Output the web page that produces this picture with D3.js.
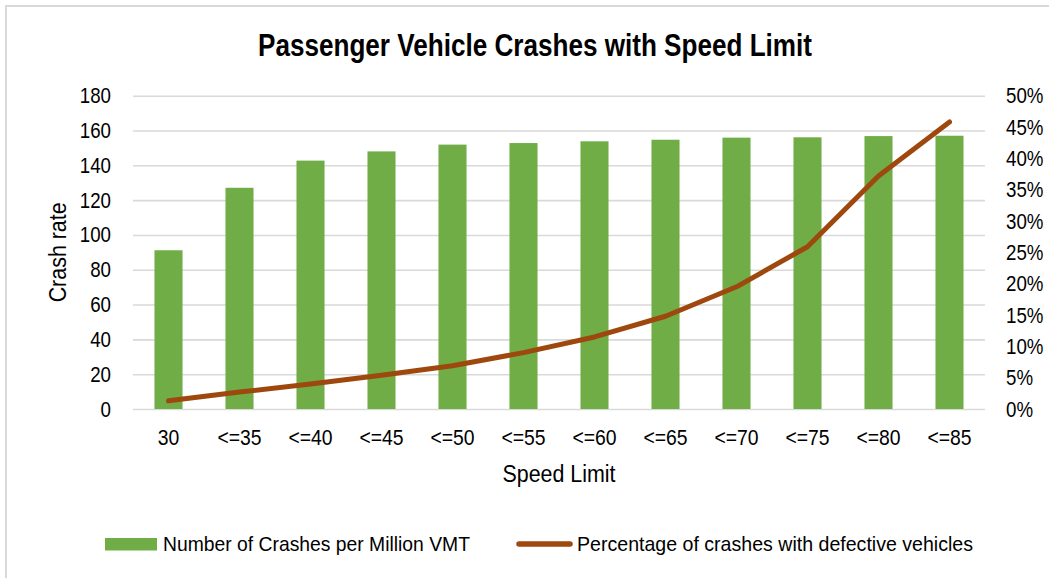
<!DOCTYPE html>
<html>
<head>
<meta charset="utf-8">
<script src="https://cdn.jsdelivr.net/npm/d3@7"></script>
<style>
  html, body { margin: 0; padding: 0; background: #fff; }
  svg { display: block; }
  text { font-family: "Liberation Sans Narrow", "Arial Narrow", "Liberation Sans", Arial, sans-serif; fill: #000; }
</style>
</head>
<body>
<svg id="chart" width="1049" height="578"></svg>
<script>
const categories = ["30", "<=35", "<=40", "<=45", "<=50", "<=55", "<=60", "<=65", "<=70", "<=75", "<=80", "<=85"];
const crashRate = [91.2, 127.1, 142.7, 148.0, 151.9, 152.8, 153.8, 154.7, 155.9, 156.1, 156.8, 157.0];
const defectivePct = [1.3, 2.7, 4.0, 5.4, 6.9, 9.0, 11.5, 14.8, 19.5, 25.9, 37.2, 45.8];
const leftTicks = [0, 20, 40, 60, 80, 100, 120, 140, 160, 180];
const rightTicks = [0, 5, 10, 15, 20, 25, 30, 35, 40, 45, 50];

const title = "Passenger Vehicle Crashes with Speed Limit";
const xTitle = "Speed Limit";
const yTitle = "Crash rate";
const barLegend = "Number of Crashes per Million VMT";
const lineLegend = "Percentage of crashes with defective vehicles";

const barColor = "#70AD47";
const lineColor = "#9E480E";
const gridColor = "#d9d9d9";

const svg = d3.select("#chart");
const plot = { left: 133, right: 985, top: 95.7, bottom: 409 };
const narrow = 0.85;

// chart border
svg.append("rect")
  .attr("x", 6).attr("y", 6).attr("width", 1100).attr("height", 700)
  .attr("fill", "none").attr("stroke", gridColor).attr("stroke-width", 2);

const x = d3.scaleBand().domain(categories).range([plot.left, plot.right]).paddingInner(0.605).paddingOuter(0.3025);
const yL = d3.scaleLinear().domain([0, 180]).range([plot.bottom, plot.top]);
const yR = d3.scaleLinear().domain([0, 50]).range([plot.bottom, plot.top]);

// gridlines
svg.append("g")
  .attr("transform", `translate(${plot.left},0)`)
  .call(d3.axisLeft(yL).tickValues(leftTicks).tickSize(-(plot.right - plot.left)).tickFormat(""))
  .call(g => g.select(".domain").remove())
  .call(g => g.selectAll("line").attr("stroke", gridColor).attr("stroke-width", 1.6));

function squeezeTicks(g, k, size) {
  g.selectAll("text").each(function () {
    const t = d3.select(this);
    const xv = +t.attr("x") || 0;
    const yv = +t.attr("y") || 0;
    t.attr("x", xv / k).attr("y", yv)
     .attr("transform", `scale(${k},1)`)
     .attr("font-size", size).attr("font-family", null).attr("fill", "#000");
  });
}

// left axis labels
svg.append("g")
  .attr("transform", `translate(${plot.left},0)`)
  .call(d3.axisLeft(yL).tickValues(leftTicks).tickSize(0).tickPadding(22))
  .call(g => g.select(".domain").remove())
  .call(g => squeezeTicks(g, narrow, 22));

// right axis labels
svg.append("g")
  .attr("transform", `translate(${plot.right},0)`)
  .call(d3.axisRight(yR).tickValues(rightTicks).tickSize(0).tickPadding(21).tickFormat(d => d + "%"))
  .call(g => g.select(".domain").remove())
  .call(g => squeezeTicks(g, narrow, 22));

// bars
svg.append("g").selectAll("rect")
  .data(crashRate)
  .join("rect")
  .attr("x", (d, i) => x(categories[i]))
  .attr("width", x.bandwidth())
  .attr("y", d => yL(d))
  .attr("height", d => yL(0) - yL(d))
  .attr("fill", barColor);

// x axis labels
svg.append("g")
  .attr("transform", `translate(0,${plot.bottom})`)
  .call(d3.axisBottom(x).tickSize(0).tickPadding(20))
  .call(g => g.select(".domain").remove())
  .call(g => squeezeTicks(g, 0.88, 22));

// line
const line = d3.line()
  .x((d, i) => x(categories[i]) + x.bandwidth() / 2)
  .y(d => yR(d));
svg.append("path")
  .datum(defectivePct)
  .attr("d", line)
  .attr("fill", "none")
  .attr("stroke", lineColor)
  .attr("stroke-width", 5)
  .attr("stroke-linecap", "round")
  .attr("stroke-linejoin", "round");

// title
svg.append("text")
  .attr("x", 535).attr("y", 56)
  .attr("text-anchor", "middle")
  .attr("font-size", 31).attr("font-weight", "bold")
  .attr("textLength", 554).attr("lengthAdjust", "spacingAndGlyphs")
  .text(title);

// axis titles
svg.append("text")
  .attr("x", (plot.left + plot.right) / 2).attr("y", 482)
  .attr("text-anchor", "middle").attr("font-size", 23)
  .attr("textLength", 113).attr("lengthAdjust", "spacingAndGlyphs")
  .text(xTitle);
svg.append("text")
  .attr("transform", `translate(66,${(plot.top + plot.bottom) / 2}) rotate(-90)`)
  .attr("text-anchor", "middle").attr("font-size", 23)
  .attr("textLength", 100).attr("lengthAdjust", "spacingAndGlyphs")
  .text(yTitle);

// legend
const lg = svg.append("g");
lg.append("rect").attr("x", 105).attr("y", 538).attr("width", 52).attr("height", 12.5).attr("fill", barColor);
lg.append("text").attr("x", 163).attr("y", 551).attr("font-size", 21)
  .attr("textLength", 307).attr("lengthAdjust", "spacingAndGlyphs").text(barLegend);
lg.append("line").attr("x1", 519).attr("x2", 570).attr("y1", 544).attr("y2", 544)
  .attr("stroke", lineColor).attr("stroke-width", 5.5).attr("stroke-linecap", "round");
lg.append("text").attr("x", 577).attr("y", 551).attr("font-size", 21)
  .attr("textLength", 396).attr("lengthAdjust", "spacingAndGlyphs").text(lineLegend);
</script>
</body>
</html>
